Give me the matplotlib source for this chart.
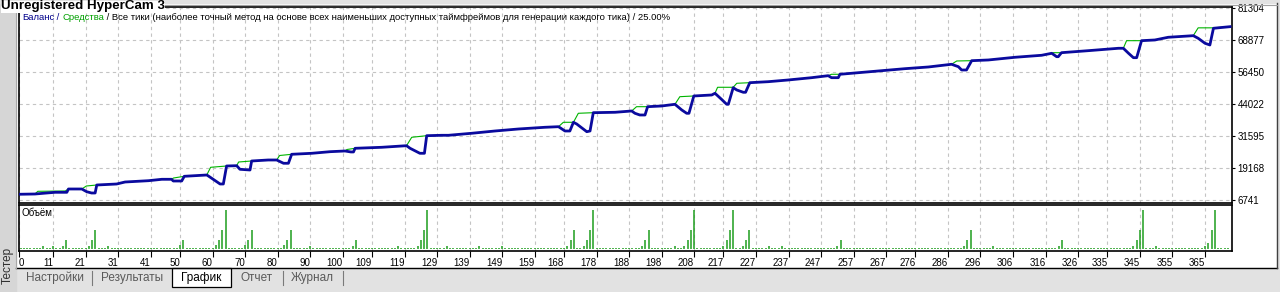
import matplotlib
matplotlib.use('Agg')
import matplotlib.pyplot as plt
from matplotlib.patches import Rectangle
from matplotlib.lines import Line2D
from matplotlib import font_manager
import numpy as np

plt.rcParams['font.family'] = ['Liberation Sans', 'DejaVu Sans']

# баланс (синяя линия), номер сделки / значение
blue_x = [0, 5.4, 9.0, 11.6, 15.2, 15.7, 19.8, 21.3, 22.8, 23.9, 24.4, 30.5, 33.1, 40.3, 44.4,
          47.4, 47.9, 50.5, 51.3, 58.2, 58.7, 62.3, 63.3, 64.3, 67.4, 68.4, 71.5, 72.0, 77.1,
          79.7, 81.8, 83.3, 84.3, 90.5, 96.1, 100.7, 102.5, 103.3, 103.8, 112.0, 119.6, 120.7,
          123.7, 125.1, 125.8, 130.4, 132.5, 139.6, 146.8, 154.0, 162.1, 166.3, 168.3, 169.8,
          170.9, 171.9, 175.0, 176.0, 177.0, 183.7, 188.8, 189.8, 191.3, 192.9, 193.7, 198.0,
          202.1, 204.2, 205.7, 206.4, 207.9, 213.4, 214.4, 216.4, 218.0, 218.5, 220.0, 221.1,
          223.1, 223.8, 225.1, 230.8, 236.9, 244.1, 249.2, 250.2, 252.3, 252.8, 264.6, 272.8,
          280.0, 287.1, 289.2, 290.2, 291.7, 293.3, 298.4, 306.6, 314.8, 317.9, 319.4, 319.9,
          320.9, 329.1, 338.4, 339.9, 341.5, 343.0, 344.0, 345.5, 349.6, 353.7, 361.4, 362.9,
          365.0, 366.5, 367.6, 372.7]
blue_y = [8955, 9071, 9460, 9732, 9732, 11013, 11013, 9965, 9460, 9460, 12567, 12955, 13732, 14237, 14781,
          14781, 14121, 14121, 15946, 16451, 16063, 12955, 12955, 19947, 20063, 18665, 18393, 21889, 22277,
          22277, 21003, 21003, 24491, 24880, 25501, 25773, 25400, 25400, 26821, 27210, 27831, 26821,
          24880, 24880, 31715, 31871, 31871, 32648, 33541, 34317, 34978, 35211, 33541, 33541,
          36920, 36259, 33269, 33541, 40649, 40804, 41309, 40416, 39755, 39755, 42978, 43250,
          43911, 41697, 40416, 40416, 47135, 47523, 48183, 45853, 43911, 43911, 50358, 49465,
          48571, 48571, 52300, 52689, 53349, 54243, 55019, 54243, 54243, 55563, 56845, 57739,
          58398, 59447, 58515, 57233, 57233, 60844, 61117, 62166, 62943, 63719, 62399, 62399,
          63952, 64729, 65661, 65661, 63719, 62010, 62010, 68614, 68885, 69934, 70555, 69545,
          67603, 66943, 73430, 74052]

# средства (зелёная линия)
green_x = [0, 5.4, 6.3, 14.7, 15.7, 19.8, 21.2, 24.4, 30.5, 33.1, 40.3, 44.4, 47.4, 48.0, 51.3,
           58.2, 59.4, 64.3, 67.4, 68.0, 72.0, 77.1, 79.7, 80.6, 84.3, 90.5, 96.1, 100.7, 101.3,
           103.8, 112.0, 119.6, 121.2, 125.8, 130.4, 132.5, 139.6, 146.8, 154.0, 162.1, 166.3,
           167.8, 170.9, 172.4, 177.0, 183.7, 188.8, 190.3, 193.7, 198.0, 202.1, 203.6, 207.9,
           213.4, 214.4, 215.2, 220.0, 221.1, 225.1, 230.8, 236.9, 244.1, 249.2, 250.2, 252.8,
           264.6, 272.8, 280.0, 287.1, 288.7, 293.3, 298.4, 306.6, 314.8, 317.9, 318.4, 320.9,
           329.1, 338.4, 339.9, 340.9, 345.5, 349.6, 353.7, 361.4, 362.9, 367.6, 372.7]
green_y = [8955, 9071, 10120, 10237, 11013, 11013, 12179, 12567, 12955, 13732, 14237, 14781, 14781, 15286, 15946,
           16451, 19442, 19947, 20063, 21500, 21889, 22277, 22277, 24025, 24491, 24880, 25501, 25773, 26355,
           26821, 27210, 27831, 31094, 31715, 31871, 31871, 32648, 33541, 34317, 34978, 35211,
           36920, 36920, 40416, 40649, 40804, 41309, 42978, 42978, 43250, 43911, 46863, 47135,
           47523, 48183, 50514, 50514, 52067, 52300, 52689, 53349, 54243, 55019, 55563, 55563,
           56845, 57739, 58398, 59447, 60729, 60844, 61117, 62166, 62943, 63719, 63952, 63952,
           64729, 65661, 65661, 68614, 68614, 68885, 69934, 70555, 73600, 73600, 74052]

y_ticks = [6741, 19168, 31595, 44022, 56450, 68877, 81304]
x_labels = [0, 11, 21, 31, 41, 50, 60, 70, 80, 90, 100, 109, 119, 129, 139, 149, 159, 168, 178,
            188, 198, 208, 217, 227, 237, 247, 257, 267, 276, 286, 296, 306, 316, 326, 335, 345, 355, 365]

# объём сделок
n_trades = 373
base_lot = 0.1
big_trades = [8, 11, 14, 15, 22, 23, 24, 28, 50, 51, 61, 62, 63, 64, 70, 71, 72, 82, 83, 84, 90,
              103, 104, 117, 123, 124, 125, 126, 132, 142, 149, 169, 170, 171, 174, 175, 176, 177,
              192, 193, 194, 202, 205, 206, 207, 208, 217, 218, 219, 220, 223, 224, 225, 231, 235,
              252, 253, 291, 292, 293, 300, 320, 321, 343, 344, 345, 346, 350, 365, 366, 367, 368]
big_lots = [0.3, 0.3, 0.3, 0.9, 0.3, 0.9, 2.0, 0.3, 0.4, 0.9, 0.4, 0.9, 2.0, 4.2, 0.4, 0.9, 2.0, 0.4, 0.9, 2.0, 0.3,
            0.3, 0.9, 0.3, 0.3, 0.9, 2.0, 4.2, 0.3, 0.3, 0.3, 0.3, 0.9, 2.0, 0.3, 0.9, 2.0, 4.2,
            0.3, 0.9, 2.0, 0.3, 0.3, 0.9, 2.0, 4.2, 0.3, 0.9, 2.0, 4.2, 0.3, 0.9, 2.0, 0.3, 0.3,
            0.3, 0.9, 0.3, 0.9, 2.0, 0.3, 0.3, 0.9, 0.3, 0.9, 2.0, 4.2, 0.3, 0.3, 0.6, 2.0, 4.2]

trades = np.arange(n_trades)
lots = np.full(n_trades, base_lot)
lots[big_trades] = big_lots

W, H = 1280, 292
def fx(x):
    return x / W
def fy(y):
    return 1 - y / H

fig = plt.figure(figsize=(12.8, 2.92), dpi=100, facecolor='white')

# рамка окна
fig.patches.append(Rectangle((0, 0), 1, fy(267.5), transform=fig.transFigure, color='#e2e2e2', zorder=0))
fig.patches.append(Rectangle((0, 0), fx(16), 1, transform=fig.transFigure, color='#d6d6d6', zorder=0))
fig.patches.append(Rectangle((fx(1277), 0), 1, 1, transform=fig.transFigure, color='#e2e2e2', zorder=0))
fig.patches.append(Rectangle((0, fy(3)), 1, 1, transform=fig.transFigure, color='#e2e2e2', zorder=0))
fig.add_artist(Line2D([fx(16), fx(1276.5)], [fy(267.5)] * 2, color='black', lw=1.0))
fig.add_artist(Line2D([fx(1276.5)] * 2, [fy(267.5), fy(3)], color='#404040', lw=1.0))
fig.add_artist(Line2D([fx(16), fx(1276.5)], [fy(4.5)] * 2, color='#a0a0a0', lw=0.8))
fig.add_artist(Line2D([fx(15.5)] * 2, [fy(267.5), fy(3)], color='#a8a8a8', lw=0.8))

xlo, xhi = 0.5, 373.3
tick_pos = [max(v, xlo) for v in x_labels]

ax = fig.add_axes([fx(19), fy(203), fx(1232) - fx(19), fy(7) - fy(203)])
ax.set_axisbelow(True)
ax.plot(green_x, green_y, color='#00b400', lw=0.8, zorder=2)
ax.plot(blue_x, blue_y, color='#0a0a9e', lw=2.0, zorder=3)
ax.set_xlim(xlo, xhi)
ax.set_ylim(5576, 81692)
ax.set_xticks(tick_pos)
ax.tick_params(axis='x', length=0, labelbottom=False)
ax.set_yticks(y_ticks)
ax.yaxis.tick_right()
ax.tick_params(axis='y', length=2, width=0.8, pad=2, labelsize=7, colors='black')
ax.grid(True, color='#c4c4c4', ls=(0, (3, 3)), lw=0.8)
for s in ax.spines.values():
    s.set_linewidth(1.2)

vol = fig.add_axes([fx(19), fy(251), fx(1232) - fx(19), fy(205) - fy(251)])
vol.set_axisbelow(True)
vol.vlines(trades, 0, lots, color='#1e9e1e', lw=1.1)
vol.set_xlim(xlo, xhi)
vol.set_ylim(-0.25, 4.7)
vol.set_yticks([])
vol.set_xticks(tick_pos)
vol.set_xticklabels([str(v) for v in x_labels])
vol.tick_params(axis='x', length=4, width=0.8, pad=1, labelsize=7)
for i, lbl in enumerate(vol.get_xticklabels()):
    lbl.set_ha('left' if i == 0 else 'right')
vol.grid(True, axis='x', color='#c4c4c4', ls=(0, (3, 3)), lw=0.8)
for s in vol.spines.values():
    s.set_linewidth(1.2)
fig.text(fx(22), fy(213), 'Объём', fontsize=7, va='center', ha='left')

# заголовок графика
t1 = fig.text(fx(22), fy(17.5), 'Баланс', color='#00008b', fontsize=6.8, va='center', ha='left')
t2 = ax.annotate(' / ', xy=(1, 0), xycoords=t1, va='bottom', ha='left', fontsize=6.8, color='#00008b')
t3 = ax.annotate('Средства', xy=(1, 0), xycoords=t2, va='bottom', ha='left', fontsize=6.8, color='#00a000')
ax.annotate(' / Все тики (наиболее точный метод на основе всех наименьших доступных таймфреймов '
            'для генерации каждого тика) / 25.00%', xy=(1, 0), xycoords=t3, va='bottom', ha='left',
            fontsize=6.8, color='black')

# вкладки
fig.patches.append(Rectangle((fx(172), fy(287)), fx(231) - fx(172), fy(267.5) - fy(287),
                             transform=fig.transFigure, facecolor='white', edgecolor='black', lw=0.9, zorder=1))
tabs = ['Настройки', 'Результаты', 'График', 'Отчет', 'Журнал']
tab_cx = [55, 132, 201.5, 256.5, 312.5]
for name, cx in zip(tabs, tab_cx):
    fig.text(fx(cx), fy(278), name, fontsize=8.5, ha='center', va='center',
             color='black' if name == 'График' else '#5a5a5a')
for sx in [92, 283, 343]:
    fig.add_artist(Line2D([fx(sx)] * 2, [fy(285), fy(271)], color='#7a7a7a', lw=0.8))
fig.text(fx(8), fy(265.5), 'Тестер', fontsize=8.5, rotation=90, ha='center', va='center', color='#303030')

# водяной знак
narrow = font_manager.findfont('Liberation Sans Narrow:bold', fallback_to_default=True)
if 'Narrow' in narrow:
    wm_family, wm_size = ['Liberation Sans Narrow'], 11.5
else:
    wm_family, wm_size = ['Liberation Sans'], 9.6
fig.text(fx(1), fy(0.5), 'Unregistered HyperCam 3', fontsize=wm_size, fontweight='bold',
         family=wm_family, ha='left', va='top',
         bbox=dict(facecolor='white', edgecolor='none', pad=0))

fig.savefig('out.png', dpi=100, facecolor=fig.get_facecolor())
